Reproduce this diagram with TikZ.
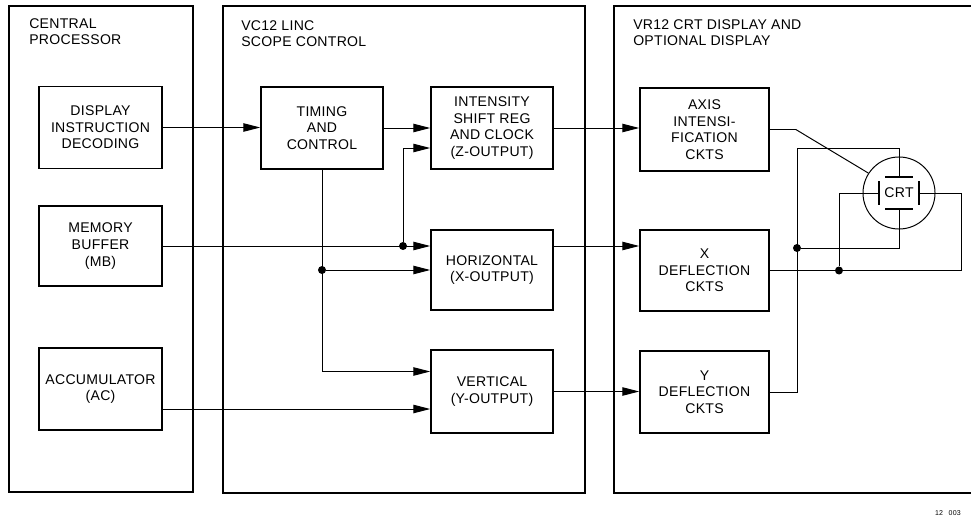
\documentclass[tikz,border=0pt]{standalone}
\usepackage{fontspec}
\setmainfont{Liberation Sans}[LetterSpace=2]
\usetikzlibrary{arrows.meta, positioning}
\newcommand{\boxfont}{\fontsize{10}{11.8}\selectfont}
\newcommand{\headfont}{\fontsize{10}{11.4}\selectfont}
\tikzstyle{panel} = [rectangle, draw=black, line width=1.4pt, inner sep=0pt]
\tikzstyle{block} = [rectangle, draw=black, line width=1.1pt, text centered, align=center, minimum width=3.05cm, minimum height=2.05cm, inner sep=0pt, font=\boxfont]
\tikzstyle{wideblock} = [block, minimum width=3.225cm]
\tikzstyle{heading} = [align=left, inner sep=0pt, anchor=base west, font=\headfont]
\tikzstyle{arrow} = [line width=0.7pt, -{Triangle[length=4.2mm,width=2.1mm]}]
\tikzstyle{wire} = [line width=0.7pt]
\tikzstyle{plate} = [line width=0.9pt]
\tikzstyle{junction} = [circle, fill=black, inner sep=0pt, minimum size=0.2cm]

\begin{document}
\begin{tikzpicture}[x=0.025cm, y=-0.025cm]
\useasboundingbox (0,0) rectangle (971,518);
\clip (0,0) rectangle (971,518);

\node (cpu) [panel, minimum width=4.6cm, minimum height=12.15cm] at (101,249) {};
\node (scope) [panel, minimum width=9.05cm, minimum height=12.175cm] at (404,249.5) {};
\node (disp) [panel, minimum width=9.275cm, minimum height=12.175cm] at (799.5,249.5) {};

\node (cpulabel) [heading] at (29,45) {CENTRAL\\PROCESSOR};
\node (scopelabel) [heading] at (241,46.5) {VC12 LINC\\SCOPE CONTROL};
\node (displabel) [heading] at (633,46) {VR12 CRT DISPLAY AND\\OPTIONAL DISPLAY};

\node (dec) [block, minimum width=3.075cm] at (100.5,127.5) {DISPLAY\\INSTRUCTION\\DECODING};
\node (mb) [block, minimum width=3.075cm, minimum height=2cm] at (100.5,246) {MEMORY\\BUFFER\\(MB)};
\node (ac) [block, minimum width=3.075cm] at (100.5,389) {ACCUMULATOR\\(AC)};

\node (timing) [block] at (322,128) {TIMING\\AND\\CONTROL};
\node (inten) [block] at (492,128) {INTENSITY\\SHIFT REG\\AND CLOCK\\(Z-OUTPUT)};
\node (horiz) [block, minimum height=2cm] at (492,270) {HORIZONTAL\\(X-OUTPUT)};
\node (vert) [block, minimum height=2.075cm] at (492,391.5) {VERTICAL\\(Y-OUTPUT)};

\node (axis) [wideblock, minimum height=2.075cm] at (704.5,129.5) {AXIS\\INTENSI-\\FICATION\\CKTS};
\node (xdef) [wideblock, minimum height=2.025cm] at (704.5,270.5) {X\\DEFLECTION\\CKTS};
\node (ydef) [wideblock] at (704.5,392) {Y\\DEFLECTION\\CKTS};

\node (crt) [circle, draw=black, line width=0.7pt, minimum size=1.8cm, inner sep=0pt, font=\boxfont] at (899,193) {CRT};
\coordinate (ptop) at ([shift={(0,-16)}]crt.center);
\coordinate (pbot) at ([shift={(0,16)}]crt.center);
\coordinate (pleft) at ([shift={(-20,0)}]crt.center);
\coordinate (pright) at ([shift={(20,0)}]crt.center);
\draw [plate] ([xshift=-0.35cm]ptop) -- ([xshift=0.35cm]ptop);
\draw [plate] ([xshift=-0.35cm]pbot) -- ([xshift=0.35cm]pbot);
\draw [plate] ([yshift=-0.29cm]pleft) -- ([yshift=0.29cm]pleft);
\draw [plate] ([yshift=-0.29cm]pright) -- ([yshift=0.29cm]pright);

\node (jz) [junction] at (403,246) {};
\node (jx) [junction] at (timing.south |- horiz.west) {};
\node (jy) [junction] at (797,248) {};
\node (jxd) [junction] at (839,270.5) {};
\coordinate (ybus) at (797,148);
\coordinate (xturn) at (961,270.5);

\draw [arrow] (dec.east) -- (dec.east -| timing.west);
\draw [arrow] (timing) -- (inten);
\draw [arrow] (inten.east) -- (inten.east -| axis.west);
\draw [arrow] (mb.east) -- (mb.east -| horiz.west);
\draw [arrow] (jz) |- ([yshift=-0.5cm]inten.west);
\draw [arrow] (timing.south) |- ([yshift=0.5cm]vert.west);
\draw [arrow] (jx) -- (jx -| horiz.west);
\draw [arrow] ([yshift=-0.5cm]ac.east) -- ([yshift=-0.5cm]ac.east -| vert.west);
\draw [arrow] (horiz.east |- mb.east) -- (xdef.west |- mb.east);
\draw [arrow] (vert.east) -- (vert.east -| ydef.west);

\draw [wire] (axis.east) -- ++(26,0) -- (crt.147);
\draw [wire] (ptop) |- (ybus) |- (ydef.east);
\draw [wire] (jy) -| (pbot);
\draw [wire] (xdef.east) -- (xturn) |- (pright);
\draw [wire] (jxd) |- (pleft);

\node (code) [font=\fontsize{5}{6}\selectfont, anchor=base east, inner sep=0pt] at (961,515) {12\hspace{0.8em}003};
\end{tikzpicture}
\end{document}
